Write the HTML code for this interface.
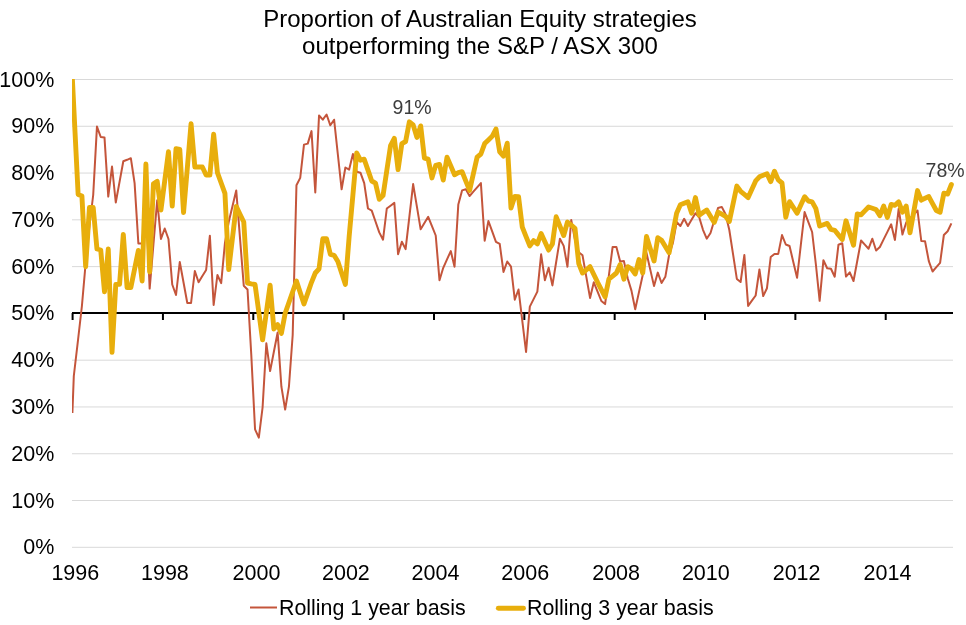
<!DOCTYPE html>
<html><head><meta charset="utf-8"><style>
html,body{margin:0;padding:0;background:#fff;}
body{width:966px;height:625px;overflow:hidden;position:relative;}
svg{position:absolute;left:0;top:0;filter:blur(0.35px);}
text{font-family:"Liberation Sans",sans-serif;fill:#000;}
</style></head><body>
<svg width="966" height="625" viewBox="0 0 966 625">
<g font-size="24">
<text x="480" y="27" text-anchor="middle">Proportion of Australian Equity strategies</text>
<text x="480" y="53.5" text-anchor="middle">outperforming the S&amp;P / ASX 300</text>
</g>
<line x1="72" y1="79.50" x2="953" y2="79.50" stroke="#d9d9d9" stroke-width="1"/>
<line x1="72" y1="126.28" x2="953" y2="126.28" stroke="#d9d9d9" stroke-width="1"/>
<line x1="72" y1="173.06" x2="953" y2="173.06" stroke="#d9d9d9" stroke-width="1"/>
<line x1="72" y1="219.84" x2="953" y2="219.84" stroke="#d9d9d9" stroke-width="1"/>
<line x1="72" y1="266.62" x2="953" y2="266.62" stroke="#d9d9d9" stroke-width="1"/>
<line x1="72" y1="360.18" x2="953" y2="360.18" stroke="#d9d9d9" stroke-width="1"/>
<line x1="72" y1="406.96" x2="953" y2="406.96" stroke="#d9d9d9" stroke-width="1"/>
<line x1="72" y1="453.74" x2="953" y2="453.74" stroke="#d9d9d9" stroke-width="1"/>
<line x1="72" y1="500.52" x2="953" y2="500.52" stroke="#d9d9d9" stroke-width="1"/>
<line x1="72" y1="547.30" x2="953" y2="547.30" stroke="#d9d9d9" stroke-width="1"/>

<g font-size="21.5">
<text x="54.3" y="86.50" text-anchor="end">100%</text>
<text x="54.3" y="133.28" text-anchor="end">90%</text>
<text x="54.3" y="180.06" text-anchor="end">80%</text>
<text x="54.3" y="226.84" text-anchor="end">70%</text>
<text x="54.3" y="273.62" text-anchor="end">60%</text>
<text x="54.3" y="320.40" text-anchor="end">50%</text>
<text x="54.3" y="367.18" text-anchor="end">40%</text>
<text x="54.3" y="413.96" text-anchor="end">30%</text>
<text x="54.3" y="460.74" text-anchor="end">20%</text>
<text x="54.3" y="507.52" text-anchor="end">10%</text>
<text x="54.3" y="554.30" text-anchor="end">0%</text>

<text x="75.30" y="579.5" text-anchor="middle">1996</text>
<text x="164.90" y="579.5" text-anchor="middle">1998</text>
<text x="256.50" y="579.5" text-anchor="middle">2000</text>
<text x="345.90" y="579.5" text-anchor="middle">2002</text>
<text x="435.50" y="579.5" text-anchor="middle">2004</text>
<text x="525.20" y="579.5" text-anchor="middle">2006</text>
<text x="616.10" y="579.5" text-anchor="middle">2008</text>
<text x="705.80" y="579.5" text-anchor="middle">2010</text>
<text x="796.60" y="579.5" text-anchor="middle">2012</text>
<text x="887.50" y="579.5" text-anchor="middle">2014</text>

</g>
<line x1="72" y1="313.1" x2="953" y2="313.1" stroke="#000" stroke-width="2"/>
<line x1="72.60" y1="313" x2="72.60" y2="320" stroke="#000" stroke-width="2"/>
<line x1="162.94" y1="313" x2="162.94" y2="320" stroke="#000" stroke-width="2"/>
<line x1="253.29" y1="313" x2="253.29" y2="320" stroke="#000" stroke-width="2"/>
<line x1="343.63" y1="313" x2="343.63" y2="320" stroke="#000" stroke-width="2"/>
<line x1="433.98" y1="313" x2="433.98" y2="320" stroke="#000" stroke-width="2"/>
<line x1="524.33" y1="313" x2="524.33" y2="320" stroke="#000" stroke-width="2"/>
<line x1="614.67" y1="313" x2="614.67" y2="320" stroke="#000" stroke-width="2"/>
<line x1="705.01" y1="313" x2="705.01" y2="320" stroke="#000" stroke-width="2"/>
<line x1="795.36" y1="313" x2="795.36" y2="320" stroke="#000" stroke-width="2"/>
<line x1="885.71" y1="313" x2="885.71" y2="320" stroke="#000" stroke-width="2"/>

<defs><clipPath id="pa"><rect x="72" y="79" width="900" height="480"/></clipPath></defs>
<g clip-path="url(#pa)">
<polyline points="72.4,413 73.8,376 78.14,339.0 81.91,306.0 85.67,263.0 89.44,226.0 93.20,195.0 96.96,126.6 100.73,137.0 104.49,137.4 108.26,196.6 112.02,166.5 115.78,202.5 119.55,181.9 123.31,161.3 127.08,159.8 130.84,158.2 134.60,183.1 138.37,243.5 142.13,243.5 145.90,201.0 149.66,288.6 153.42,244.5 157.19,200.3 160.95,239.0 164.72,228.5 168.48,239.0 172.24,284.5 176.01,295.0 179.77,262.0 183.54,282.5 187.30,303.0 191.06,303.0 194.83,271.0 198.59,282.3 202.36,276.1 206.12,270.0 209.88,235.7 213.65,305.0 217.41,275.0 221.18,283.2 224.94,243.0 228.70,222.0 232.47,206.2 236.23,190.4 240.00,238.1 243.76,285.7 247.52,289.5 251.29,355.0 255.05,429.3 258.82,437.7 262.58,407.5 266.34,343.3 270.11,371.1 273.87,351.8 277.64,332.5 281.40,386.7 285.16,409.6 288.93,386.7 292.69,335.0 296.46,185.2 300.22,177.9 303.98,144.6 307.75,143.6 311.51,131.1 315.28,192.5 319.04,115.5 322.80,119.7 326.57,114.5 330.33,125.3 334.10,119.7 337.86,154.5 341.62,189.3 345.39,167.5 349.15,169.6 352.92,154.0 356.68,171.7 360.44,172.7 364.21,183.1 367.97,208.5 371.74,210.6 375.50,221.5 379.26,232.4 383.03,239.7 386.79,208.5 390.56,205.7 394.32,202.9 398.08,254.3 401.85,241.8 405.61,249.1 409.38,216.6 413.14,184.1 416.90,206.7 420.67,229.3 424.43,223.1 428.20,216.8 431.96,226.2 435.72,235.5 439.49,280.2 443.25,267.8 447.02,259.4 450.78,251.1 454.54,266.7 458.31,204.4 462.07,190.4 465.84,189.3 469.60,196.0 473.36,191.7 477.13,187.4 480.89,183.1 484.66,240.7 488.42,221.0 492.18,231.4 495.95,241.8 499.71,243.9 503.48,271.9 507.24,261.5 511.00,266.7 514.77,299.7 518.53,289.5 522.30,320.8 526.06,352.0 529.82,306.6 533.59,299.1 537.35,291.6 541.12,254.3 544.88,280.2 548.64,267.8 552.41,285.4 556.17,262.0 559.94,238.7 563.70,245.9 567.46,266.7 571.23,220.0 574.99,239.7 578.76,252.2 582.52,255.3 586.28,276.6 590.05,297.9 593.81,282.3 597.58,291.6 601.34,301.0 605.10,304.1 608.87,275.6 612.63,247.0 616.40,247.0 620.16,261.5 623.92,261.1 627.69,278.2 631.45,290.6 635.22,309.3 638.98,292.1 642.74,275.0 646.51,253.0 650.27,269.6 654.04,286.1 657.80,272.6 661.56,283.0 665.33,276.8 669.09,255.0 672.86,243.0 676.62,222.0 680.38,226.0 684.15,218.8 687.91,226.0 691.68,219.6 695.44,213.2 699.20,217.3 702.97,229.8 706.73,238.7 710.50,233.0 714.26,220.5 718.02,208.0 721.79,206.9 725.55,214.2 729.32,230.0 733.08,254.4 736.84,278.9 740.61,282.0 744.37,255.0 748.14,305.9 751.90,300.7 755.66,295.5 759.43,269.5 763.19,296.1 766.96,288.2 770.72,257.0 774.48,253.9 778.25,253.9 782.01,235.1 785.78,244.5 789.54,246.0 793.30,261.9 797.07,277.8 800.83,244.9 804.60,212.1 808.36,222.1 812.12,232.0 815.89,264.5 819.65,300.8 823.42,260.2 827.18,268.2 830.94,268.8 834.71,276.7 838.47,244.7 842.24,243.2 846.00,276.6 849.76,272.3 853.53,281.0 857.29,260.8 861.06,240.5 864.82,244.6 868.58,248.7 872.35,238.7 876.11,250.5 879.88,247.0 883.64,239.4 887.40,231.9 891.17,224.3 894.93,240.0 898.70,208.7 902.46,234.5 906.22,222.5 909.99,218.5 913.75,214.5 917.52,210.5 921.28,241.0 925.04,241.2 928.81,261.1 932.57,271.5 936.34,267.1 940.10,262.8 943.86,235.0 947.63,231.2 951.39,223.4" fill="none" stroke="#c4553b" stroke-width="2" stroke-linejoin="round"/>
<polyline points="72.4,79.5 78.14,194.5 81.91,196.0 85.67,266.7 89.44,207.5 93.20,207.5 96.96,249.0 100.73,250.0 104.49,291.7 108.26,249.0 112.02,352.4 115.78,284.4 119.55,284.4 123.31,234.5 127.08,287.5 130.84,287.5 134.60,269.0 138.37,250.5 142.13,281.0 145.90,164.0 149.66,272.0 153.42,183.8 157.19,181.4 160.95,210.0 164.72,180.9 168.48,151.8 172.24,206.0 176.01,148.6 179.77,149.4 183.54,212.5 187.30,168.2 191.06,123.8 194.83,167.0 198.59,167.0 202.36,167.0 206.12,175.0 209.88,175.0 213.65,134.2 217.41,172.6 221.18,183.0 224.94,193.4 228.70,269.6 232.47,238.0 236.23,206.4 240.00,214.2 243.76,222.0 247.52,283.0 251.29,283.8 255.05,284.5 258.82,312.2 262.58,339.9 266.34,312.5 270.11,285.2 273.87,329.0 277.64,324.7 281.40,333.4 285.16,313.2 288.93,302.5 292.69,291.7 296.46,281.0 300.22,292.5 303.98,304.0 307.75,293.1 311.51,282.3 315.28,273.0 319.04,268.8 322.80,238.7 326.57,238.7 330.33,254.3 334.10,255.3 337.86,261.5 341.62,272.9 345.39,284.4 349.15,236.6 352.92,194.8 356.68,153.0 360.44,160.2 364.21,159.2 367.97,170.1 371.74,181.0 375.50,183.1 379.26,199.3 383.03,195.6 386.79,170.6 390.56,145.7 394.32,138.4 398.08,169.6 401.85,143.6 405.61,141.5 409.38,121.8 413.14,124.9 416.90,137.4 420.67,125.9 424.43,158.2 428.20,159.2 431.96,177.9 435.72,165.4 439.49,164.4 443.25,180.0 447.02,157.1 450.78,165.9 454.54,174.8 458.31,172.7 462.07,171.7 465.84,181.1 469.60,190.4 473.36,173.8 477.13,157.1 480.89,154.0 484.66,143.6 488.42,139.9 492.18,136.3 495.95,129.0 499.71,151.9 503.48,156.1 507.24,143.2 511.00,208.0 514.77,196.5 518.53,196.6 522.30,227.2 526.06,236.6 529.82,245.9 533.59,240.7 537.35,243.9 541.12,233.5 544.88,241.8 548.64,250.1 552.41,243.9 556.17,216.8 559.94,226.2 563.70,235.5 567.46,222.0 571.23,225.2 574.99,228.3 578.76,263.6 582.52,273.0 586.28,269.9 590.05,266.7 593.81,274.5 597.58,282.3 601.34,289.6 605.10,296.9 608.87,279.2 612.63,276.1 616.40,273.0 620.16,264.6 623.92,279.2 627.69,266.7 631.45,268.8 635.22,274.0 638.98,259.5 642.74,273.0 646.51,236.4 650.27,248.7 654.04,261.0 657.80,237.7 661.56,240.3 665.33,246.6 669.09,252.8 672.86,233.0 676.62,213.2 680.38,204.8 684.15,203.2 687.91,201.7 691.68,213.2 695.44,197.6 699.20,215.2 702.97,212.6 706.73,210.0 710.50,216.2 714.26,222.5 718.02,212.1 721.79,214.2 725.55,216.3 729.32,221.5 733.08,203.8 736.84,186.1 740.61,191.3 744.37,194.4 748.14,197.6 751.90,189.2 755.66,180.9 759.43,176.8 763.19,175.2 766.96,173.7 770.72,181.6 774.48,171.2 778.25,179.9 782.01,183.0 785.78,217.3 789.54,201.7 793.30,207.4 797.07,213.2 800.83,204.9 804.60,196.7 808.36,201.0 812.12,201.8 815.89,208.7 819.65,226.0 823.42,224.7 827.18,223.4 830.94,229.4 834.71,230.3 838.47,234.9 842.24,239.5 846.00,220.8 849.76,233.0 853.53,245.2 857.29,213.9 861.06,214.8 864.82,210.9 868.58,207.0 872.35,208.3 876.11,209.6 879.88,215.6 883.64,206.1 887.40,217.4 891.17,204.4 894.93,205.3 898.70,201.8 902.46,212.2 906.22,206.1 909.99,232.8 913.75,211.7 917.52,190.6 921.28,200.1 925.04,198.3 928.81,196.6 932.57,203.6 936.34,210.5 940.10,212.2 943.86,193.2 947.63,194.0 951.39,184.5" fill="none" stroke="#e8ae0c" stroke-width="4.9" stroke-linejoin="round" stroke-linecap="round"/>
</g>
<g font-size="19.5">
<text x="392.6" y="113.8" style="fill:#3c3c3c">91%</text>
<text x="925.6" y="176.8" style="fill:#3c3c3c">78%</text>
</g>
<line x1="250" y1="607.5" x2="277" y2="607.5" stroke="#c4553b" stroke-width="2"/>
<line x1="498.3" y1="608.2" x2="523.5" y2="608.2" stroke="#e8ae0c" stroke-width="4.9" stroke-linecap="round"/>
<g font-size="21.4">
<text x="279" y="615">Rolling 1 year basis</text>
<text x="527" y="615">Rolling 3 year basis</text>
</g>
</svg>
</body></html>
